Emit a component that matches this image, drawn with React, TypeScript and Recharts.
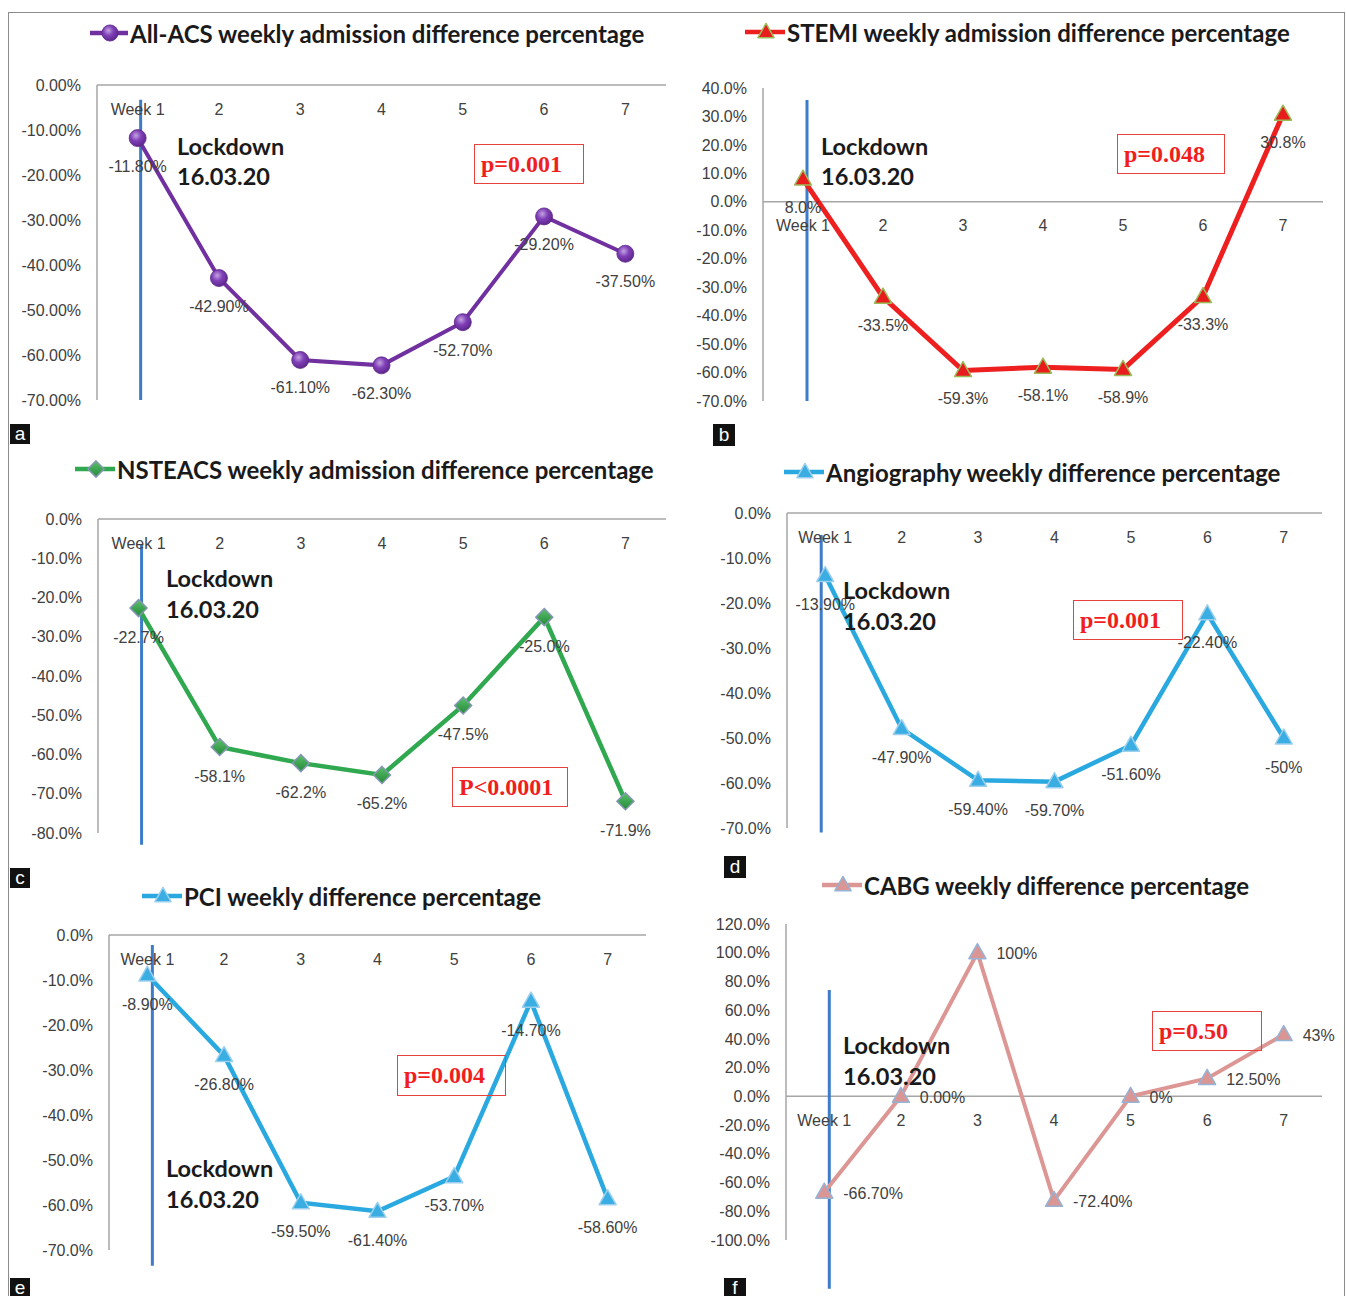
import { LineChart, Line, XAxis, YAxis, ReferenceLine, LabelList } from "recharts";

const weeks = ["Week 1", "2", "3", "4", "5", "6", "7"];

const allAcsValues = [-11.8, -42.9, -61.1, -62.3, -52.7, -29.2, -37.5];
const allAcsLabels = ["-11.80%", "-42.90%", "-61.10%", "-62.30%", "-52.70%", "-29.20%", "-37.50%"];

const stemiValues = [8.0, -33.5, -59.3, -58.1, -58.9, -33.3, 30.8];
const stemiLabels = ["8.0%", "-33.5%", "-59.3%", "-58.1%", "-58.9%", "-33.3%", "30.8%"];

const nsteacsValues = [-22.7, -58.1, -62.2, -65.2, -47.5, -25.0, -71.9];
const nsteacsLabels = ["-22.7%", "-58.1%", "-62.2%", "-65.2%", "-47.5%", "-25.0%", "-71.9%"];

const angioValues = [-13.9, -47.9, -59.4, -59.7, -51.6, -22.4, -50];
const angioLabels = ["-13.90%", "-47.90%", "-59.40%", "-59.70%", "-51.60%", "-22.40%", "-50%"];

const pciValues = [-8.9, -26.8, -59.5, -61.4, -53.7, -14.7, -58.6];
const pciLabels = ["-8.90%", "-26.80%", "-59.50%", "-61.40%", "-53.70%", "-14.70%", "-58.60%"];

const cabgValues = [-66.7, 0, 100, -72.4, 0, 12.5, 43];
const cabgLabels = ["-66.70%", "0.00%", "100%", "-72.40%", "0%", "12.50%", "43%"];

const ticks0to70 = [0, -10, -20, -30, -40, -50, -60, -70];
const ticks0to80 = [0, -10, -20, -30, -40, -50, -60, -70, -80];
const ticks40to70 = [40, 30, 20, 10, 0, -10, -20, -30, -40, -50, -60, -70];
const ticks120to100 = [120, 100, 80, 60, 40, 20, 0, -20, -40, -60, -80, -100];

const FONT = "'Liberation Sans', Arial, sans-serif";
const TITLE_FONT = "Lato, 'Open Sans', sans-serif";
const P_FONT = "'Liberation Serif', 'Times New Roman', serif";
const TEXT = "#404040";
const AXIS = "#a6a6a6";
const LOCK = "#3d7cc9";

const YW = 90; // y axis width
const MT = 30; // x axis band above the plot
const MR = 50;
const MB = 60;

type Marker = "circle" | "triangle" | "diamond";

type Panel = {
  id: string;
  title: string;
  values: number[];
  labels: string[];
  color: string;
  lineWidth: number;
  marker: Marker;
  markerFill: string;
  markerStroke: string;
  domain: [number, number];
  ticks: number[];
  decimals: number;
  plot: { left: number; top: number; right: number; bottom: number };
  lock: [number, number];
  lockShift: number; // hand-drawn line sits a little off the Week 1 point
  labelPos: { dx: number; dy: number; anchor: "middle" | "start" };
  title_: { iconX: number; textX: number; cy: number };
  lockText: { x: number; cy1: number; cy2: number };
  pBox: { x: number; y: number; w: number; h: number; text: string };
  letter: { x: number; y: number; w: number; h: number; ch: string };
};

const panels: Panel[] = [
  {
    id: "a",
    title: "All-ACS weekly admission difference percentage",
    values: allAcsValues,
    labels: allAcsLabels,
    color: "#7030a0",
    lineWidth: 4,
    marker: "circle",
    markerFill: "url(#purpleBall)",
    markerStroke: "#5c2a86",
    domain: [-70, 0],
    ticks: ticks0to70,
    decimals: 2,
    plot: { left: 97, top: 85, right: 666, bottom: 400 },
    lock: [-3.3, -70],
    lockShift: 3,
    labelPos: { dx: 0, dy: 28, anchor: "middle" },
    title_: { iconX: 90, textX: 130, cy: 33 },
    lockText: { x: 177, cy1: 146, cy2: 176 },
    pBox: { x: 474, y: 144, w: 110, h: 40, text: "p=0.001" },
    letter: { x: 10, y: 424, w: 20, h: 20, ch: "a" },
  },
  {
    id: "b",
    title: "STEMI weekly admission difference percentage",
    values: stemiValues,
    labels: stemiLabels,
    color: "#ee1f1f",
    lineWidth: 5,
    marker: "triangle",
    markerFill: "#e81c1c",
    markerStroke: "#9bbb59",
    domain: [-70, 40],
    ticks: ticks40to70,
    decimals: 1,
    plot: { left: 763, top: 88, right: 1323, bottom: 401 },
    lock: [35.8, -70],
    lockShift: 4,
    labelPos: { dx: 0, dy: 28, anchor: "middle" },
    title_: { iconX: 745, textX: 787, cy: 32 },
    lockText: { x: 821, cy1: 146, cy2: 176 },
    pBox: { x: 1117, y: 134, w: 108, h: 40, text: "p=0.048" },
    letter: { x: 713, y: 424, w: 22, h: 22, ch: "b" },
  },
  {
    id: "c",
    title: "NSTEACS weekly admission difference percentage",
    values: nsteacsValues,
    labels: nsteacsLabels,
    color: "#2fa84f",
    lineWidth: 4.5,
    marker: "diamond",
    markerFill: "url(#greenGem)",
    markerStroke: "#8497b0",
    domain: [-80, 0],
    ticks: ticks0to80,
    decimals: 1,
    plot: { left: 98, top: 519, right: 666, bottom: 833 },
    lock: [-6.6, -83],
    lockShift: 3,
    labelPos: { dx: 0, dy: 29, anchor: "middle" },
    title_: { iconX: 75, textX: 117, cy: 469 },
    lockText: { x: 166, cy1: 578, cy2: 609 },
    pBox: { x: 452, y: 767, w: 116, h: 40, text: "P<0.0001" },
    letter: { x: 10, y: 868, w: 20, h: 20, ch: "c" },
  },
  {
    id: "d",
    title: "Angiography weekly difference percentage",
    values: angioValues,
    labels: angioLabels,
    color: "#2aa9e0",
    lineWidth: 4.5,
    marker: "triangle",
    markerFill: "#3aaee2",
    markerStroke: "#9ccfee",
    domain: [-70, 0],
    ticks: ticks0to70,
    decimals: 1,
    plot: { left: 787, top: 513, right: 1322, bottom: 828 },
    lock: [-4.9, -71],
    lockShift: -4,
    labelPos: { dx: 0, dy: 29, anchor: "middle" },
    title_: { iconX: 784, textX: 826, cy: 472 },
    lockText: { x: 843, cy1: 590, cy2: 621 },
    pBox: { x: 1073, y: 600, w: 110, h: 40, text: "p=0.001" },
    letter: { x: 724, y: 856, w: 22, h: 22, ch: "d" },
  },
  {
    id: "e",
    title: "PCI weekly difference percentage",
    values: pciValues,
    labels: pciLabels,
    color: "#2aa9e0",
    lineWidth: 4.5,
    marker: "triangle",
    markerFill: "#3aaee2",
    markerStroke: "#9ccfee",
    domain: [-70, 0],
    ticks: ticks0to70,
    decimals: 1,
    plot: { left: 109, top: 935, right: 646, bottom: 1250 },
    lock: [-2.2, -73.5],
    lockShift: 5,
    labelPos: { dx: 0, dy: 29, anchor: "middle" },
    title_: { iconX: 142, textX: 184, cy: 896 },
    lockText: { x: 166, cy1: 1168, cy2: 1199 },
    pBox: { x: 397, y: 1055, w: 109, h: 41, text: "p=0.004" },
    letter: { x: 10, y: 1278, w: 20, h: 20, ch: "e" },
  },
  {
    id: "f",
    title: "CABG weekly difference percentage",
    values: cabgValues,
    labels: cabgLabels,
    color: "#dc9694",
    lineWidth: 4,
    marker: "triangle",
    markerFill: "#d99694",
    markerStroke: "#95b3d7",
    domain: [-100, 120],
    ticks: ticks120to100,
    decimals: 1,
    plot: { left: 786, top: 924, right: 1322, bottom: 1240 },
    lock: [74, -134],
    lockShift: 5,
    labelPos: { dx: 19, dy: 1, anchor: "start" },
    title_: { iconX: 822, textX: 864, cy: 885 },
    lockText: { x: 843, cy1: 1045, cy2: 1076 },
    pBox: { x: 1152, y: 1011, w: 110, h: 40, text: "p=0.50" },
    letter: { x: 724, y: 1278, w: 22, h: 20, ch: "f" },
  },
];

function MarkerShape({ kind, cx, cy, fill, stroke, s = 1 }: { kind: Marker; cx: number; cy: number; fill: string; stroke: string; s?: number }) {
  if (kind === "circle") {
    return <circle cx={cx} cy={cy} r={8.5 * s} fill={fill} stroke={stroke} strokeWidth={0.8} />;
  }
  if (kind === "diamond") {
    const r = 8.5 * s;
    return (
      <polygon
        points={`${cx},${cy - r} ${cx + r},${cy} ${cx},${cy + r} ${cx - r},${cy}`}
        fill={fill}
        stroke={stroke}
        strokeWidth={1.5}
      />
    );
  }
  const w = 8.5 * s;
  return (
    <polygon
      points={`${cx},${cy - 9 * s} ${cx + w},${cy + 6 * s} ${cx - w},${cy + 6 * s}`}
      fill={fill}
      stroke={stroke}
      strokeWidth={1.5}
      strokeLinejoin="round"
    />
  );
}

function fmtPct(v: number, decimals: number) {
  return `${v.toFixed(decimals)}%`;
}

function PanelChart({ p }: { p: Panel }) {
  const plotW = p.plot.right - p.plot.left;
  const plotH = p.plot.bottom - p.plot.top;
  const width = plotW + YW + MR;
  const height = plotH + MT + MB;
  const [lo, hi] = p.domain;
  const zeroPx = (hi / (hi - lo)) * plotH;
  const crosses = hi > 0;
  const halfStep = plotW / weeks.length / 2;
  const data = weeks.map((w, i) => ({ week: w, value: p.values[i], label: p.labels[i] }));

  return (
    <>
      <div style={{ position: "absolute", left: p.plot.left - YW, top: p.plot.top - MT }}>
        <LineChart width={width} height={height} data={data} margin={{ top: 0, right: MR, bottom: MB, left: 0 }}>
          <XAxis
            dataKey="week"
            orientation="top"
            height={MT}
            interval={0}
            padding={{ left: halfStep, right: halfStep }}
            tickSize={0}
            tickMargin={0}
            tickLine={false}
            axisLine={crosses ? false : { stroke: AXIS, strokeWidth: 1.5 }}
            tick={(t: any) => (
              <text
                key={`xt${t.index}`}
                x={t.x}
                y={t.y + zeroPx + 24}
                textAnchor="middle"
                dominantBaseline="central"
                fill={TEXT}
                fontSize={16}
                fontFamily={FONT}
              >
                {t.payload.value}
              </text>
            )}
          />
          <YAxis
            type="number"
            domain={p.domain}
            ticks={p.ticks}
            interval={0}
            width={YW}
            tickSize={0}
            tickMargin={16}
            tickLine={false}
            axisLine={{ stroke: AXIS, strokeWidth: 1.5 }}
            tick={{ fill: TEXT, fontSize: 16, fontFamily: FONT }}
            tickFormatter={(v: number) => fmtPct(v, p.decimals)}
          />
          {crosses && <ReferenceLine y={0} stroke={AXIS} strokeWidth={1.5} />}
          <ReferenceLine
            segment={[
              { x: "Week 1", y: p.lock[0] },
              { x: "Week 1", y: p.lock[1] },
            ]}
            ifOverflow="visible"
            shape={(s: any) => (
              <line
                x1={s.x1 + p.lockShift}
                y1={s.y1}
                x2={s.x2 + p.lockShift}
                y2={s.y2}
                stroke={LOCK}
                strokeWidth={3}
              />
            )}
          />
          <Line
            type="linear"
            dataKey="value"
            stroke={p.color}
            strokeWidth={p.lineWidth}
            isAnimationActive={false}
            activeDot={false}
            dot={(d: any) => (
              <MarkerShape
                key={`dot${d.index}`}
                kind={p.marker}
                cx={d.cx}
                cy={d.cy}
                fill={p.markerFill}
                stroke={p.markerStroke}
              />
            )}
          >
            <LabelList
              dataKey="label"
              content={(l: any) => {
                const x = l.x ?? l.viewBox?.x;
                const y = l.y ?? l.viewBox?.y;
                return (
                  <text
                    key={`lb${l.index}`}
                    x={x + p.labelPos.dx}
                    y={y + p.labelPos.dy}
                    textAnchor={p.labelPos.anchor}
                    dominantBaseline="central"
                    fill={TEXT}
                    fontSize={16}
                    fontFamily={FONT}
                  >
                    {l.value}
                  </text>
                );
              }}
            />
          </Line>
        </LineChart>
      </div>

      {/* legend-style title */}
      <div
        style={{
          position: "absolute",
          left: p.title_.iconX,
          top: p.title_.cy - 16,
          height: 32,
          display: "flex",
          alignItems: "center",
          whiteSpace: "nowrap",
        }}
      >
        <svg width={p.title_.textX - p.title_.iconX} height={24} style={{ display: "block" }}>
          <line x1={0} y1={12} x2={p.title_.textX - p.title_.iconX - 2} y2={12} stroke={p.color} strokeWidth={4.5} />
          <MarkerShape
            kind={p.marker}
            cx={(p.title_.textX - p.title_.iconX) / 2}
            cy={12}
            fill={p.markerFill}
            stroke={p.markerStroke}
            s={0.95}
          />
        </svg>
        <span style={{ fontFamily: TITLE_FONT, fontWeight: 700, fontSize: 24, color: "#1a1a1a" }}>{p.title}</span>
      </div>

      {/* lockdown note */}
      {[
        ["Lockdown", p.lockText.cy1],
        ["16.03.20", p.lockText.cy2],
      ].map(([txt, cy]) => (
        <div
          key={txt as string}
          style={{
            position: "absolute",
            left: p.lockText.x,
            top: (cy as number) - 16,
            height: 32,
            lineHeight: "32px",
            fontFamily: TITLE_FONT,
            fontWeight: 700,
            fontSize: 23.5,
            color: "#1a1a1a",
            whiteSpace: "nowrap",
          }}
        >
          {txt}
        </div>
      ))}

      {/* p-value box */}
      <div
        style={{
          position: "absolute",
          left: p.pBox.x,
          top: p.pBox.y,
          width: p.pBox.w,
          height: p.pBox.h,
          boxSizing: "border-box",
          border: "1.5px solid #e8403c",
          paddingLeft: 6,
          display: "flex",
          alignItems: "center",
          fontFamily: P_FONT,
          fontWeight: 700,
          fontSize: 24,
          color: "#f01e1e",
          background: "transparent",
        }}
      >
        {p.pBox.text}
      </div>

      {/* panel letter */}
      <div
        style={{
          position: "absolute",
          left: p.letter.x,
          top: p.letter.y,
          width: p.letter.w,
          height: p.letter.h,
          background: "#111",
          color: "#fff",
          fontFamily: FONT,
          fontSize: 19,
          lineHeight: `${p.letter.h}px`,
          textAlign: "center",
        }}
      >
        {p.letter.ch}
      </div>
    </>
  );
}

export default function App() {
  return (
    <div
      style={{
        position: "absolute",
        left: 0,
        top: 0,
        width: 1346,
        height: 1296,
        background: "#fff",
        overflow: "hidden",
      }}
    >
      <svg width={0} height={0} style={{ position: "absolute" }}>
        <defs>
          <radialGradient id="purpleBall" cx="40%" cy="35%" r="70%">
            <stop offset="0%" stopColor="#c3a3e0" />
            <stop offset="45%" stopColor="#8040b8" />
            <stop offset="100%" stopColor="#5a2387" />
          </radialGradient>
          <linearGradient id="greenGem" x1="0" y1="0" x2="0" y2="1">
            <stop offset="0%" stopColor="#5cc06a" />
            <stop offset="100%" stopColor="#238a3a" />
          </linearGradient>
        </defs>
      </svg>
      {/* outer frame */}
      <div
        style={{
          position: "absolute",
          left: 8,
          top: 12,
          width: 1337,
          height: 1290,
          boxSizing: "border-box",
          borderTop: "1.5px solid #8c8c8c",
          borderLeft: "1.5px solid #8c8c8c",
          borderRight: "1.5px solid #8c8c8c",
        }}
      />
      {panels.map((p) => (
        <PanelChart key={p.id} p={p} />
      ))}
    </div>
  );
}
